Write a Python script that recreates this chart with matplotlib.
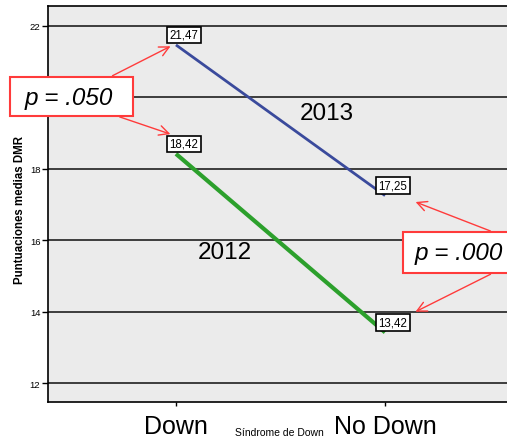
import matplotlib
matplotlib.use("Agg")
import matplotlib.pyplot as plt
from matplotlib.patches import Rectangle, FancyArrowPatch

plt.rcParams['font.family'] = ['Liberation Sans', 'DejaVu Sans']

categories = ["Down", "No Down"]
series_2013 = [21.47, 17.25]
series_2012 = [18.42, 13.42]
labels_2013 = ["21,47", "17,25"]
labels_2012 = ["18,42", "13,42"]
yticks = [12, 14, 16, 18, 20, 22]
ytick_labels = ["12", "14", "16", "18", "", "22"]

W, H = 507, 439
fig = plt.figure(figsize=(W / 100, H / 100), dpi=100)
fig.patch.set_facecolor('white')

def fx(px):
    return px / W

def fy(py):
    return 1 - py / H

ax = fig.add_axes([fx(48), fy(403), (513 - 48) / W, (403 - 7) / H])
ax.set_facecolor('#ebebeb')
ax.set_xlim(-0.612, 1.612)
ax.set_ylim(11.47, 22.56)

for yv in yticks:
    ax.axhline(yv, color='#202020', lw=1.2, zorder=1)

x = list(range(len(categories)))
ax.plot(x, series_2013, color='#3a4a9c', lw=2.0, zorder=3, solid_capstyle='butt')
ax.plot(x, series_2012, color='#2ca02c', lw=3.0, zorder=3, solid_capstyle='butt')

for xi, yv, lab in zip(x, series_2013, labels_2013):
    ax.annotate(lab, xy=(xi, yv), xytext=(8, 10), textcoords='offset pixels',
                ha='center', va='center', fontsize=8.3, zorder=5,
                bbox=dict(boxstyle='square,pad=0.2', fc='white', ec='black', lw=1.2))
for xi, yv, lab in zip(x, series_2012, labels_2012):
    ax.annotate(lab, xy=(xi, yv), xytext=(8, 10), textcoords='offset pixels',
                ha='center', va='center', fontsize=8.3, zorder=5,
                bbox=dict(boxstyle='square,pad=0.2', fc='white', ec='black', lw=1.2))

ax.text(0.722, 19.56, "2013", fontsize=17.5, ha='center', va='center', zorder=4)
ax.text(0.234, 15.67, "2012", fontsize=17.5, ha='center', va='center', zorder=4)

ax.set_xticks(x)
ax.set_xticklabels(categories, fontsize=18)
ax.tick_params(axis='x', length=3, width=1, pad=6, color='black')
ax.set_yticks(yticks)
ax.set_yticklabels(ytick_labels, fontsize=6.8)
ax.tick_params(axis='y', length=4.5, width=1, pad=1, color='black')
for s in ax.spines.values():
    s.set_linewidth(1.2)
    s.set_color('black')

fig.text(fx(279), fy(433), "Síndrome de Down", fontsize=7.5, ha='center', va='center')
fig.text(fx(20), fy(210), "Puntuaciones medias DMR", fontsize=8.3, fontweight='bold',
         rotation=90, ha='center', va='center')

red = '#ff3b3b'
fig.patches.append(Rectangle((fx(10), fy(117)), (133 - 10) / W, (117 - 78) / H,
                             transform=fig.transFigure, fc='white', ec=red, lw=1.5, zorder=10))
fig.text(fx(69), fy(98), "p = .050", fontsize=17.5, style='italic', ha='center', va='center', zorder=11)
fig.patches.append(Rectangle((fx(403), fy(274)), (512 - 403) / W, (274 - 233) / H,
                             transform=fig.transFigure, fc='white', ec=red, lw=1.5, zorder=10))
fig.text(fx(459), fy(254), "p = .000", fontsize=17.5, style='italic', ha='center', va='center', zorder=11)

arrows = [((110, 78), (173, 46)), ((117, 117), (173, 136)),
          ((493, 233), (413, 202)), ((493, 274), (413, 314))]
for (sx, sy), (tx, ty) in arrows:
    fig.add_artist(FancyArrowPatch(
        (fx(sx), fy(sy)), (fx(tx), fy(ty)), transform=fig.transFigure,
        arrowstyle='->,head_length=7,head_width=3.5', color=red, lw=1.0,
        mutation_scale=1, zorder=9))

fig.savefig('out.png', dpi=100)
